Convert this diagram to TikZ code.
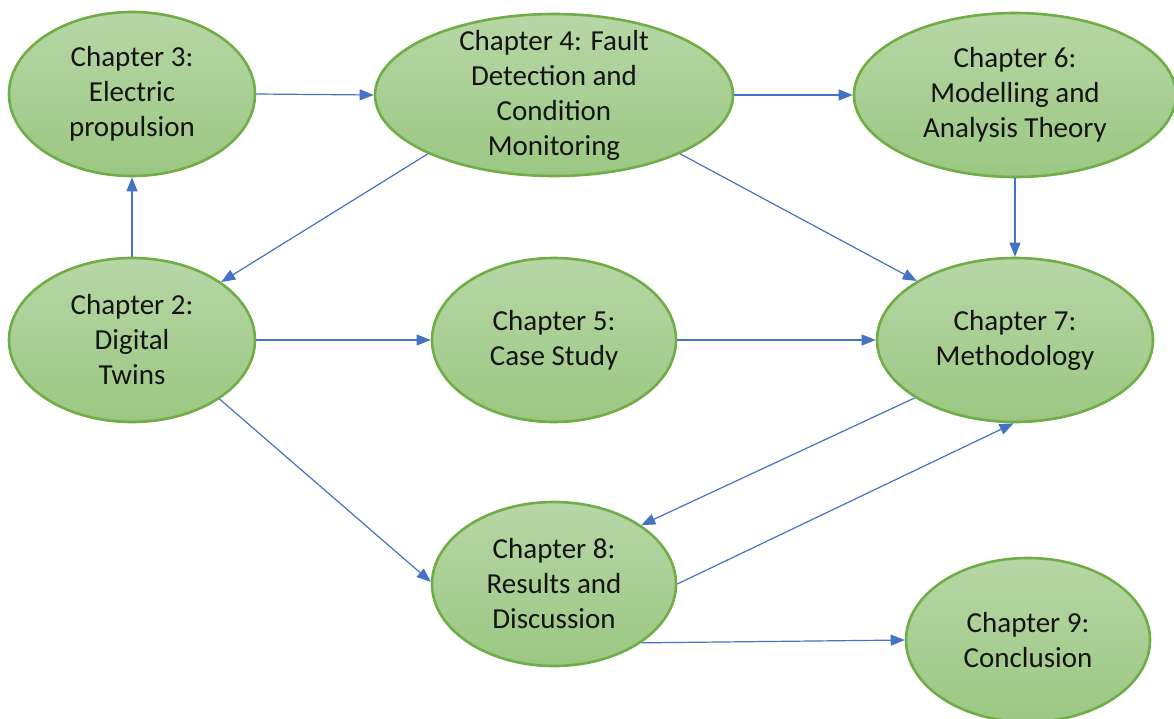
\documentclass[tikz,border=0pt]{standalone}
\usepackage{fontspec}
\setmainfont{Carlito}
\usetikzlibrary{arrows.meta,shapes.geometric}
\definecolor{chapEdge}{RGB}{112,173,71}
\definecolor{chapTop}{RGB}{183,215,166}
\definecolor{chapBottom}{RGB}{155,199,130}
\definecolor{linkBlue}{RGB}{68,114,196}
\definecolor{chapText}{RGB}{20,20,20}
\tikzset{
  chapter/.style={ellipse, draw=chapEdge, line width=2.6pt,
    top color=chapTop, bottom color=chapBottom, inner sep=0pt},
  chaptext/.style={align=center, inner sep=0pt, text=chapText,
    font=\fontsize{29}{35}\selectfont},
  link/.style={draw=linkBlue, line width=1.2pt,
    -{Triangle[length=14pt,width=11pt]}},
}
\begin{document}
\begin{tikzpicture}[x=1pt,y=-1pt]
\useasboundingbox (0,0) rectangle (1174,718);

% chapter bubbles
\node[chapter, minimum width=246pt, minimum height=164pt] (ch3) at (132,94) {};
\node[chapter, minimum width=358pt, minimum height=162pt] (ch4) at (554,95) {};
\node[chapter, minimum width=322pt, minimum height=164pt] (ch6) at (1015,95) {};
\node[chapter, minimum width=246pt, minimum height=164pt] (ch2) at (132,340) {};
\node[chapter, minimum width=244pt, minimum height=164pt] (ch5) at (554,340) {};
\node[chapter, minimum width=276pt, minimum height=164pt] (ch7) at (1015,340) {};
\node[chapter, minimum width=244pt, minimum height=164pt] (ch8) at (554,584) {};
\node[chapter, minimum width=244pt, minimum height=164pt] (ch9) at (1028,640) {};

% chapter titles
\node[chaptext] (t3) at (ch3) {Chapter 3:\\Electric\\propulsion};
\node[chaptext] (t4) at (ch4) {Chapter 4: Fault\\Detection and\\Condition\\Monitoring};
\node[chaptext] (t6) at (ch6) {Chapter 6:\\Modelling and\\Analysis Theory};
\node[chaptext] (t2) at (ch2) {Chapter 2:\\Digital\\Twins};
\node[chaptext] (t5) at (ch5) {Chapter 5:\\Case Study};
\node[chaptext] (t7) at (ch7) {Chapter 7:\\Methodology};
\node[chaptext] (t8) at (ch8) {Chapter 8:\\Results and\\Discussion};
\node[chaptext] (t9) at (ch9) {Chapter 9:\\Conclusion};

% reading order
\draw[link] (ch3.east) -- (ch4.west);
\draw[link] (ch2.north) -- (ch3.south);
\draw[link] (ch4.205.5) -- (ch2.33);
\draw[link] (ch4.east) -- (ch6.west);
\draw[link] (ch4.335) -- (ch7.149.4);
\draw[link] (ch6.south) -- (ch7.north);
\draw[link] (ch2.east) -- (ch5.west);
\draw[link] (ch5.east) -- (ch7.west);
\draw[link] (ch2.326) -- (ch8.179);
\draw[link] (ch7.210.6) -- (ch8.34.1);
\draw[link] (ch8.east) -- (ch7.269);
\draw[link] (ch8.326.8) -- (ch9.west);
\end{tikzpicture}
\end{document}
